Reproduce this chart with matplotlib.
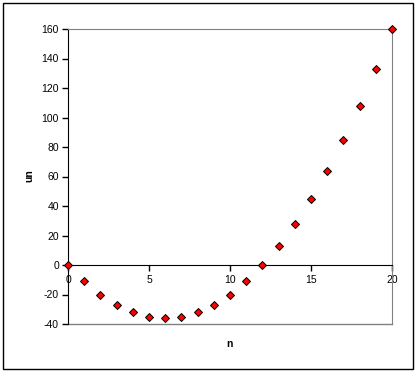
import matplotlib
matplotlib.use("Agg")
import matplotlib.pyplot as plt
from matplotlib.patches import Rectangle

n_values = [0, 1, 2, 3, 4, 5, 6, 7, 8, 9, 10, 11, 12, 13, 14, 15, 16, 17, 18, 19, 20]
un_values = [0, -11, -20, -27, -32, -35, -36, -35, -32, -27, -20, -11, 0,
             13, 28, 45, 64, 85, 108, 133, 160]
x_ticks = [0, 5, 10, 15, 20]
y_ticks = [-40, -20, 0, 20, 40, 60, 80, 100, 120, 140, 160]

plt.rcParams["font.family"] = ["Liberation Sans", "DejaVu Sans"]
plt.rcParams["font.size"] = 7.5
plt.rcParams["axes.unicode_minus"] = False

W, H = 416, 372
fig = plt.figure(figsize=(W / 100, H / 100), dpi=100)

# outer chart border
fig.patches.append(Rectangle((3 / W, 3 / H), 410 / W, 366 / H, transform=fig.transFigure,
                             fill=False, edgecolor="black", linewidth=1))

left, right, top, bottom = 68, 392, 29, 324
ax = fig.add_axes([left / W, 1 - bottom / H, (right - left) / W, (bottom - top) / H])

ax.plot(n_values, un_values, linestyle="none", marker="D", markersize=4.2,
        markerfacecolor="#ff0000", markeredgecolor="black", markeredgewidth=0.7,
        clip_on=False, zorder=5)

ax.set_xlim(0, 20)
ax.set_ylim(-40, 160)
ax.set_xticks(x_ticks)
ax.set_yticks(y_ticks)

ax.spines["left"].set_color("black")
ax.spines["bottom"].set_position(("data", 0))
ax.spines["bottom"].set_color("black")
for s in ["top", "right"]:
    ax.spines[s].set_color("#808080")
# gray frame line at the bottom of the plot area
ax.axhline(-40, color="#808080", linewidth=1, clip_on=False)

ax.tick_params(axis="y", direction="out", length=4, width=1, pad=2.5)
ax.tick_params(axis="x", direction="out", length=4, width=1, pad=3)

ax.set_xlabel("n", fontweight="bold", fontsize=7.5, va="center")
ax.xaxis.set_label_coords((229.5 - left) / (right - left), (bottom - 344) / (bottom - top))
ax.set_ylabel("un", fontweight="bold", fontsize=7.5, va="center")
ax.yaxis.set_label_coords((29 - left) / (right - left), (bottom - 175.5) / (bottom - top))

fig.savefig("out.png", dpi=100)
